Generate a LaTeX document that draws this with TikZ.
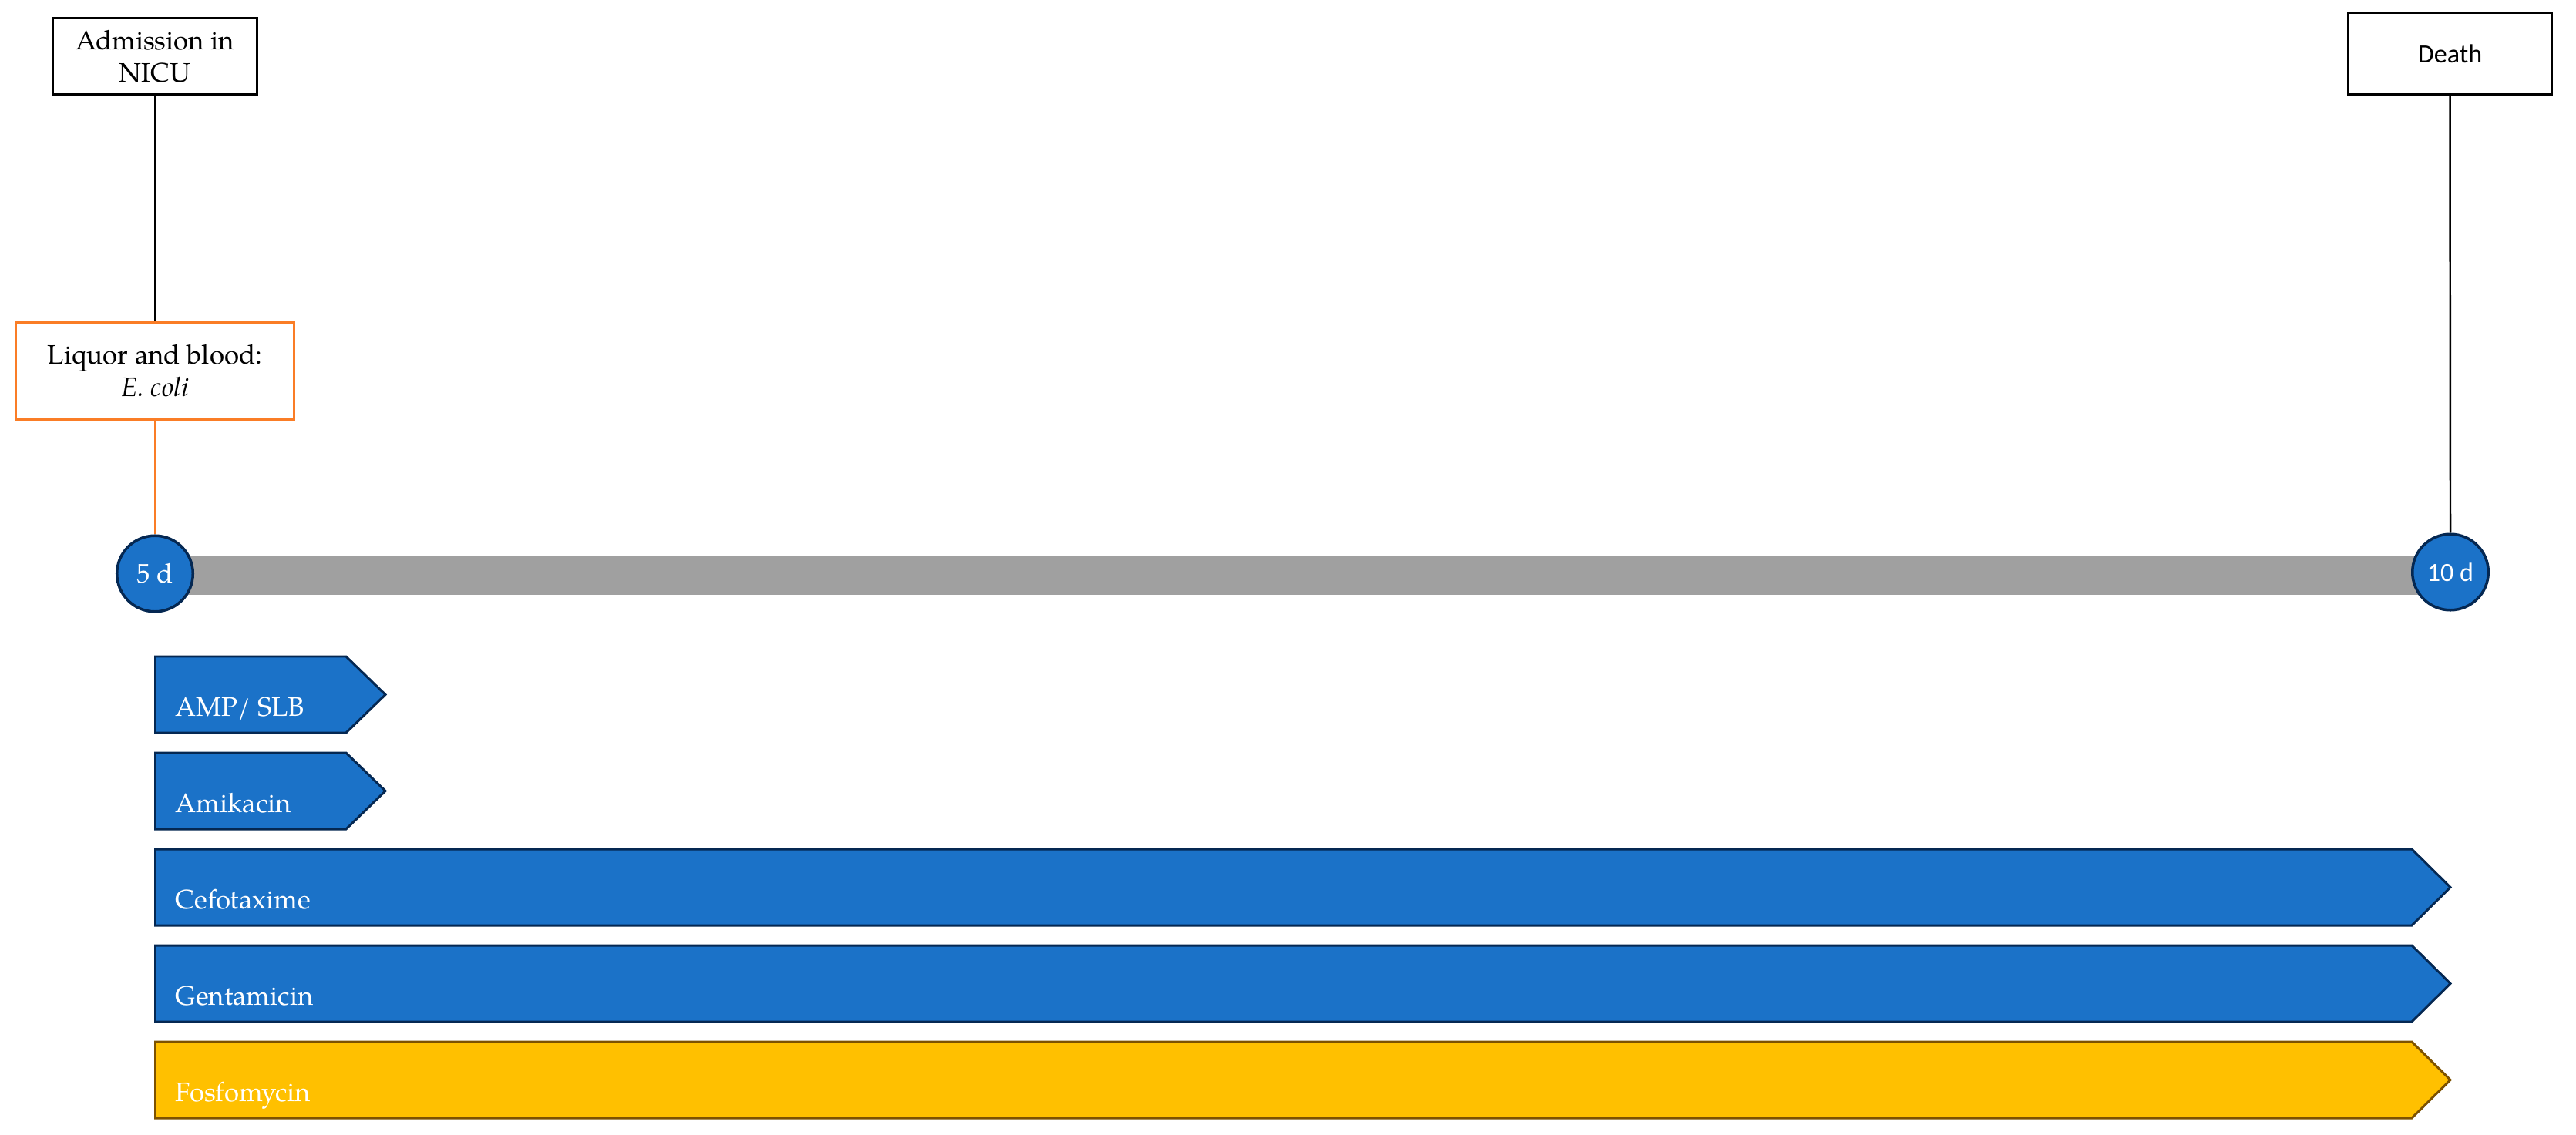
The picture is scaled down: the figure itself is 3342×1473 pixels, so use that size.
\documentclass[tikz,border=0pt]{standalone}
\usepackage{fontspec}
\setmainfont{TeX Gyre Pagella}
\newfontfamily\calib{Carlito}
\definecolor{barblue}{RGB}{27,114,200}
\definecolor{navy}{RGB}{5,40,82}
\definecolor{orng}{RGB}{250,125,38}
\definecolor{bargray}{RGB}{160,160,160}
\definecolor{gold}{RGB}{255,192,0}
\definecolor{brownedge}{RGB}{125,82,0}
\begin{document}
\begin{tikzpicture}[x=0.01cm,y=-0.01cm,
  txt/.style={font=\fontsize{9.9}{11.95}\selectfont},
  eventbox/.style={draw=black, line width=0.95pt, fill=white, inner sep=0pt, align=center, txt},
  labbox/.style={draw=orng, line width=0.95pt, fill=white, inner sep=0pt, align=center, txt},
  daycirc/.style={circle, draw=navy, line width=1pt, fill=barblue, text=white, inner sep=0pt, minimum size=0.985cm},
  bluebar/.style={draw=navy, line width=0.85pt, fill=barblue},
  goldbar/.style={draw=brownedge, line width=0.85pt, fill=gold},
  bartext/.style={anchor=base west, inner sep=0pt, text=white, txt},
  conn/.style={line width=0.6pt, draw=black}
]
\useasboundingbox (0,0) rectangle (3342,1473);

% timeline
\coordinate (t5) at (201,747);
\coordinate (t10) at (3179,747);
\draw[bargray, line width=14.2pt] (t5) -- (t10);

% day circles
\node[daycirc, txt] (c5) at (201,744.5) {5 d};
\node[daycirc, font=\calib\fontsize{9.7}{11.6}\selectfont] (c10) at (3179,742.5) {10 d};

% event boxes
\node[eventbox, minimum width=2.65cm, minimum height=0.99cm] (adm) at (201,73) {Admission in\\NICU};
\node[eventbox, minimum width=2.64cm, minimum height=1.06cm, font=\calib\fontsize{9.7}{11.6}\selectfont] (death) at (3178.5,69.5) {Death};
\node[labbox, minimum width=3.61cm, minimum height=1.26cm] (liq) at (201,481.5) {Liquor and blood:\\\textit{E. coli}};

% connectors
\draw[conn] (adm.south) -- (liq.north);
\draw[orng, line width=0.6pt] (liq.south) -- (c5.north);
\draw[conn, line width=0.7pt] (death.south) -- (c10.north);

% therapy bars
\path[bluebar] (201.5,852) -- (449,852) -- (500,901.5) -- (449,951) -- (201.5,951) -- cycle;
\node[bartext] (amp) at (227,929) {AMP/ SLB};

\path[bluebar] (201.5,977) -- (449,977) -- (500,1026.5) -- (449,1076) -- (201.5,1076) -- cycle;
\node[bartext] (ami) at (227,1054) {Amikacin};

\path[bluebar] (201.5,1102) -- (3129,1102) -- (3179,1151.5) -- (3129,1201) -- (201.5,1201) -- cycle;
\node[bartext] (cef) at (227,1179) {Cefotaxime};

\path[bluebar] (201.5,1227) -- (3129,1227) -- (3179,1276.5) -- (3129,1326) -- (201.5,1326) -- cycle;
\node[bartext] (gen) at (227,1304) {Gentamicin};

\path[goldbar] (201.5,1352) -- (3129,1352) -- (3179,1401.5) -- (3129,1451) -- (201.5,1451) -- cycle;
\node[bartext] (fos) at (227,1429) {Fosfomycin};
\end{tikzpicture}
\end{document}
